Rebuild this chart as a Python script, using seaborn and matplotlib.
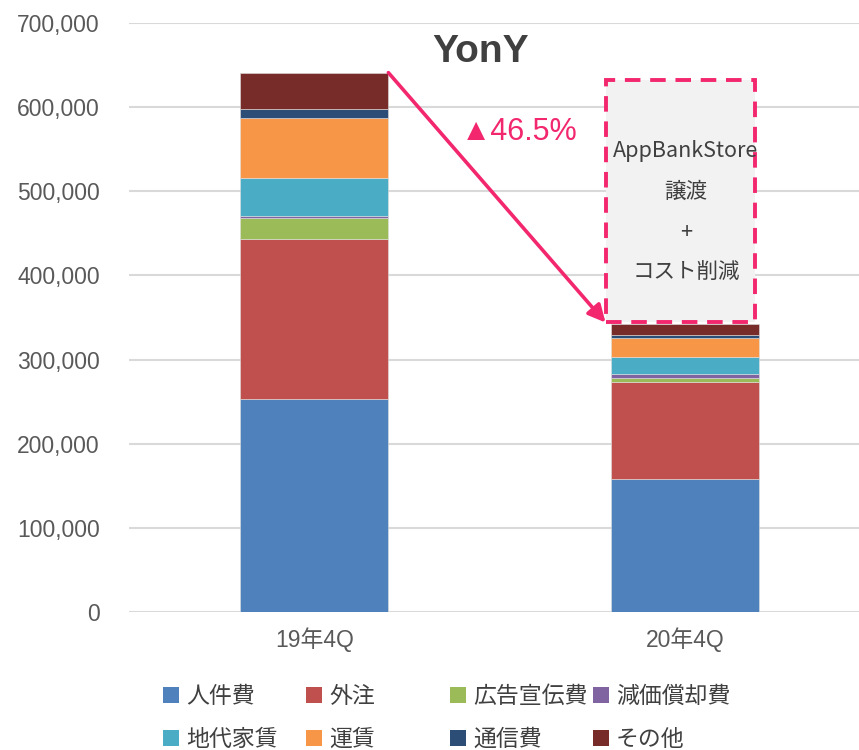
import pandas as pd
import seaborn as sns
import matplotlib.pyplot as plt
from matplotlib.patches import Patch, Rectangle

# data
quarters = ['19年4Q', '20年4Q']
categories = ['人件費', '外注', '広告宣伝費', '減価償却費', '地代家賃', '運賃', '通信費', 'その他']
values_19q4 = [253000, 190600, 25000, 1500, 45700, 71000, 10700, 43500]
values_20q4 = [158000, 115000, 4700, 4800, 21000, 21900, 3900, 13100]
colors = ['#4F81BD', '#C0504D', '#9BBB59', '#8064A2', '#4BACC6', '#F79646', '#2C4D75', '#772C2A']
change_label = '▲46.5%'
box_text = 'AppBankStore\n譲渡\n+\nコスト削減'

sns.set_theme(style='white')
plt.rcParams['font.family'] = ['Liberation Sans', 'Noto Sans CJK JP', 'DejaVu Sans']

df = pd.DataFrame({
    'quarter': [q for q in quarters for _ in categories],
    'item': categories * 2,
    'amount': values_19q4 + values_20q4,
})
df['quarter'] = pd.Categorical(df['quarter'], quarters)

fig = plt.figure(figsize=(8.59, 7.5), dpi=100)
ax = fig.add_axes([129 / 859, 1 - 612 / 750, 1 - 129 / 859, (612 - 23) / 750])

# seaborn stacks the last hue level at the bottom, so reverse the order
sns.histplot(data=df, x='quarter', weights='amount', hue='item',
             hue_order=categories[::-1], palette=dict(zip(categories, colors)),
             multiple='stack', discrete=True, shrink=0.4, alpha=1,
             linewidth=0.4, edgecolor='#e0e0e0', legend=False, ax=ax)

ax.set_ylim(0, 700000)
ax.set_xlim(-0.5, 1.47)
ax.set_yticks(range(0, 700001, 100000))
ax.set_yticklabels([f'{v:,}' for v in range(0, 700001, 100000)])
ax.set_xticks([0, 1])
ax.set_xticklabels(quarters)
ax.set_xlabel('')
ax.set_ylabel('')
ax.tick_params(axis='y', labelsize=16.5, colors='#595959', length=0, pad=21)
ax.tick_params(axis='x', labelsize=16.5, colors='#595959', length=0, pad=11)
ax.yaxis.grid(True, color='#d9d9d9', linewidth=1.5)
ax.set_axisbelow(True)
for s in ax.spines.values():
    s.set_visible(False)

# annotations
ax.text(0.448, 665500, 'YonY', ha='center', va='center', fontsize=28,
        fontweight='bold', color='#404040')
ax.text(0.552, 570000, change_label, ha='center', va='center', fontsize=22,
        color='#F2276E')
ax.annotate('', xy=(0.786, 344000), xytext=(0.2, 641000),
            arrowprops=dict(arrowstyle='-|>', color='#F2276E', lw=2.6,
                            mutation_scale=26, shrinkA=0, shrinkB=0))
box = Rectangle((0.786, 344700), 0.403, 287600, facecolor='#F2F2F2',
                edgecolor='#F2276E', linewidth=2.8, linestyle=(0, (4, 2.5)), zorder=3)
ax.add_patch(box)
ax.text(1.003, 475000, box_text, ha='center', va='center', fontsize=15.5,
        color='#404040', linespacing=2.1, zorder=4,
        family=['Noto Sans CJK JP', 'DejaVu Sans'])

# legend: four fixed-width columns of two entries each
handles = [Patch(facecolor=c, edgecolor='none', label=n) for n, c in zip(categories, colors)]
col_x = [163, 306, 450, 593]
for i, x in enumerate(col_x):
    leg = fig.legend([handles[i], handles[i + 4]], [categories[i], categories[i + 4]],
                     loc='center left', bbox_to_anchor=(x / 859, 1 - 718 / 750), ncol=1,
                     frameon=False, handlelength=0.7, handleheight=0.7,
                     handletextpad=0.3, labelspacing=0.85, borderpad=0, borderaxespad=0,
                     prop={'family': ['Noto Sans CJK JP', 'DejaVu Sans'], 'size': 16.5},
                     labelcolor='#404040')

fig.savefig('out.png', dpi=100)
